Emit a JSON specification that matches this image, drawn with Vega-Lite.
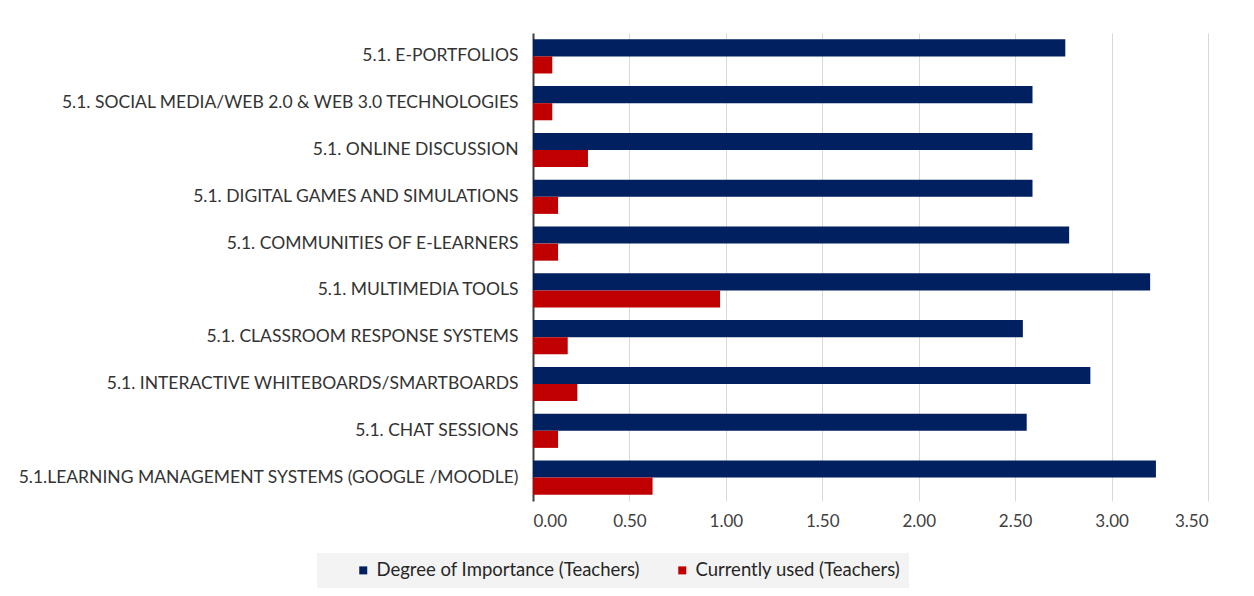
{
  "$schema": "https://vega.github.io/schema/vega-lite/v6.json",
  "autosize": {"type": "none"},
  "width": 675,
  "height": 468,
  "padding": {"left": 533, "top": 33, "right": 46, "bottom": 95},
  "background": "white",
  "data": {
    "values": [
      {"item": "5.1. E-PORTFOLIOS", "series": "Degree of Importance (Teachers)", "value": 2.76},
      {"item": "5.1. E-PORTFOLIOS", "series": "Currently used (Teachers)", "value": 0.10},
      {"item": "5.1. SOCIAL MEDIA/WEB 2.0 & WEB 3.0 TECHNOLOGIES", "series": "Degree of Importance (Teachers)", "value": 2.59},
      {"item": "5.1. SOCIAL MEDIA/WEB 2.0 & WEB 3.0 TECHNOLOGIES", "series": "Currently used (Teachers)", "value": 0.10},
      {"item": "5.1. ONLINE DISCUSSION", "series": "Degree of Importance (Teachers)", "value": 2.59},
      {"item": "5.1. ONLINE DISCUSSION", "series": "Currently used (Teachers)", "value": 0.285},
      {"item": "5.1. DIGITAL GAMES AND SIMULATIONS", "series": "Degree of Importance (Teachers)", "value": 2.59},
      {"item": "5.1. DIGITAL GAMES AND SIMULATIONS", "series": "Currently used (Teachers)", "value": 0.13},
      {"item": "5.1. COMMUNITIES OF E-LEARNERS", "series": "Degree of Importance (Teachers)", "value": 2.78},
      {"item": "5.1. COMMUNITIES OF E-LEARNERS", "series": "Currently used (Teachers)", "value": 0.13},
      {"item": "5.1. MULTIMEDIA TOOLS", "series": "Degree of Importance (Teachers)", "value": 3.20},
      {"item": "5.1. MULTIMEDIA TOOLS", "series": "Currently used (Teachers)", "value": 0.97},
      {"item": "5.1.  CLASSROOM RESPONSE SYSTEMS", "series": "Degree of Importance (Teachers)", "value": 2.54},
      {"item": "5.1.  CLASSROOM RESPONSE SYSTEMS", "series": "Currently used (Teachers)", "value": 0.18},
      {"item": "5.1.   INTERACTIVE WHITEBOARDS/SMARTBOARDS", "series": "Degree of Importance (Teachers)", "value": 2.89},
      {"item": "5.1.   INTERACTIVE WHITEBOARDS/SMARTBOARDS", "series": "Currently used (Teachers)", "value": 0.23},
      {"item": "5.1.  CHAT SESSIONS", "series": "Degree of Importance (Teachers)", "value": 2.56},
      {"item": "5.1.  CHAT SESSIONS", "series": "Currently used (Teachers)", "value": 0.13},
      {"item": "5.1.LEARNING MANAGEMENT SYSTEMS (GOOGLE /MOODLE)", "series": "Degree of Importance (Teachers)", "value": 3.23},
      {"item": "5.1.LEARNING MANAGEMENT SYSTEMS (GOOGLE /MOODLE)", "series": "Currently used (Teachers)", "value": 0.62}
    ]
  },
  "mark": {"type": "bar"},
  "encoding": {
    "y": {
      "field": "item",
      "type": "nominal",
      "sort": null,
      "title": null,
      "scale": {"paddingInner": 0.27, "paddingOuter": 0.135},
      "axis": {
        "ticks": false,
        "domain": true,
        "domainColor": "#404040",
        "domainWidth": 2,
        "labelFont": "Lato",
        "labelFontSize": 17.5,
        "labelColor": "#333333",
        "labelPadding": 15,
        "labelLimit": 600
      }
    },
    "yOffset": {
      "field": "series",
      "type": "nominal",
      "sort": ["Degree of Importance (Teachers)", "Currently used (Teachers)"],
      "scale": {"paddingInner": 0, "paddingOuter": 0}
    },
    "x": {
      "field": "value",
      "type": "quantitative",
      "title": null,
      "scale": {"domain": [0, 3.5], "nice": false},
      "axis": {
        "values": [0, 0.5, 1, 1.5, 2, 2.5, 3, 3.5],
        "format": ".2f",
        "ticks": false,
        "domain": false,
        "grid": true,
        "gridColor": "#d9d9d9",
        "gridWidth": 1,
        "labelFont": "Lato",
        "labelFontSize": 17,
        "labelColor": "#404040",
        "labelPadding": 12
      }
    },
    "color": {
      "field": "series",
      "type": "nominal",
      "sort": ["Degree of Importance (Teachers)", "Currently used (Teachers)"],
      "scale": {"domain": ["Degree of Importance (Teachers)", "Currently used (Teachers)"], "range": ["#002060", "#c00000"]},
      "legend": {
        "title": null,
        "orient": "none",
        "direction": "horizontal",
        "legendX": -216,
        "legendY": 520,
        "fillColor": "#f3f3f3",
        "padding": 8,
        "symbolType": "square",
        "symbolSize": 64,
        "symbolOffset": 29,
        "symbolStrokeWidth": 0,
        "labelFont": "Lato",
        "labelFontSize": 18.5,
        "labelColor": "#262626",
        "labelOffset": 4,
        "columnPadding": 4,
        "labelLimit": 500,
        "labelExpr": "datum.label == 'Currently used (Teachers)' ? datum.label + '\u00a0\u00a0\u00a0\u00a0\u00a0\u00a0\u00a0\u00a0\u00a0' : datum.label"
      }
    }
  },
  "config": {
    "view": {"stroke": null}
  }
}
